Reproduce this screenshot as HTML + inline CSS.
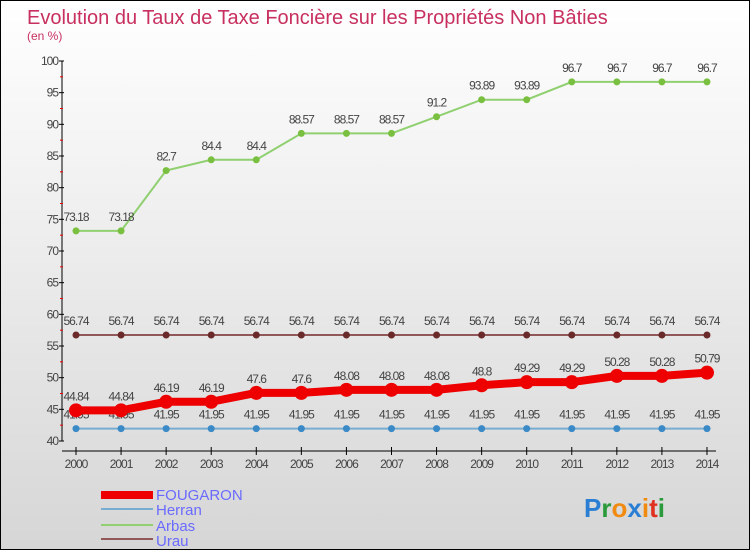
<!DOCTYPE html>
<html><head><meta charset="utf-8"><style>
body{margin:0}
#c{width:750px;height:550px;position:relative;box-sizing:border-box;border:1px solid #000;background:linear-gradient(#ffffff,#d6d6d6);font-family:"Liberation Sans",sans-serif;overflow:hidden}
svg text{font-family:"Liberation Sans",sans-serif}
</style></head><body>
<div id="c">
<svg id="s" width="750" height="550">
<text x="26" y="23" font-size="20" fill="#c8305f">Evolution du Taux de Taxe Foncière sur les Propriétés Non Bâties</text>
<text x="26" y="39" font-size="12" fill="#c8305f">(en %)</text>
<g id="g"></g>
<g>
<rect x="100" y="490" width="52" height="8" fill="#e00"/>
<text x="155" y="499" font-size="15" fill="#6a6aff">FOUGARON</text>
<rect x="100" y="507" width="52" height="2" fill="#78acd0"/>
<text x="155" y="514" font-size="15" fill="#6a6aff">Herran</text>
<rect x="100" y="523" width="52" height="2" fill="#90d070"/>
<text x="155" y="530" font-size="15" fill="#6a6aff">Arbas</text>
<rect x="100" y="537" width="52" height="2" fill="#905858"/>
<text x="155" y="545" font-size="15" fill="#6a6aff">Urau</text>
</g>
<text x="583" y="516" font-size="26" font-weight="bold"><tspan fill="#2a7fd4">P</tspan><tspan fill="#2a9a3a">r</tspan><tspan fill="#f08a10">o</tspan><tspan fill="#2a7fd4">x</tspan><tspan fill="#f08a10">i</tspan><tspan fill="#e03020">t</tspan><tspan fill="#2a9a3a">i</tspan></text>
</svg></div>
<script>
const years=[2000,2001,2002,2003,2004,2005,2006,2007,2008,2009,2010,2011,2012,2013,2014];
const fougaron=[44.84,44.84,46.19,46.19,47.6,47.6,48.08,48.08,48.08,48.8,49.29,49.29,50.28,50.28,50.79];
const herran=[41.95,41.95,41.95,41.95,41.95,41.95,41.95,41.95,41.95,41.95,41.95,41.95,41.95,41.95,41.95];
const arbas=[73.18,73.18,82.7,84.4,84.4,88.57,88.57,88.57,91.2,93.89,93.89,96.7,96.7,96.7,96.7];
const urau=[56.74,56.74,56.74,56.74,56.74,56.74,56.74,56.74,56.74,56.74,56.74,56.74,56.74,56.74,56.74];
const yTicks=[40,45,50,55,60,65,70,75,80,85,90,95,100];
const NS="http://www.w3.org/2000/svg",g=document.getElementById('g');
const X=i=>75+i*45.07, Y=v=>440-(v-40)*380/60;
function el(t,a,name){const e=document.createElementNS(NS,t);for(const k in a)e.setAttribute(k,a[k]);


g.appendChild(e);return e;}
el('line',{x1:61,y1:60,x2:61,y2:440,stroke:'#000'},'y-axis');
el('line',{x1:61,y1:450,x2:715,y2:450,stroke:'#000'},'x-axis');
yTicks.forEach(v=>{el('line',{x1:58,y1:Y(v),x2:63,y2:Y(v),stroke:'#000'},'y-tick');
const t=el('text',{x:57,y:Y(v)+4,'font-size':12,fill:'#444','text-anchor':'end','letter-spacing':'-1'},'y-tick-label');t.textContent=v;
if(v<100)el('line',{x1:59,y1:Y(v+2.5),x2:62,y2:Y(v+2.5),stroke:'#e00'},'y-minor-tick');});
years.forEach((y,i)=>{el('line',{x1:X(i),y1:446,x2:X(i),y2:454,stroke:'#000'},'x-tick');
const t=el('text',{x:X(i),y:467,'font-size':12,fill:'#444','text-anchor':'middle','letter-spacing':'-1'},'x-tick-label');t.textContent=y;});
function series(d,name,col,w,r,dot){
el('polyline',{points:d.map((v,i)=>X(i)+','+Y(v)).join(' '),fill:'none',stroke:col,'stroke-width':w},name+'-line');
d.forEach((v,i)=>{el('circle',{cx:X(i),cy:Y(v),r:r,fill:dot},name+'-point');
const t=el('text',{x:X(i),y:Y(v)-10,'font-size':12,fill:'#444','text-anchor':'middle','letter-spacing':'-1'},name+'-value-label');t.textContent=v;});}
series(arbas,'arbas','#90d070',2,3.5,'#7ac040');
series(urau,'urau','#905858',2,3.5,'#6a2a2a');
series(herran,'herran','#78acd0',2,3.5,'#3a8ac8');
series(fougaron,'fougaron','#e00',8,7,'#e00');
</script>
</body></html>
